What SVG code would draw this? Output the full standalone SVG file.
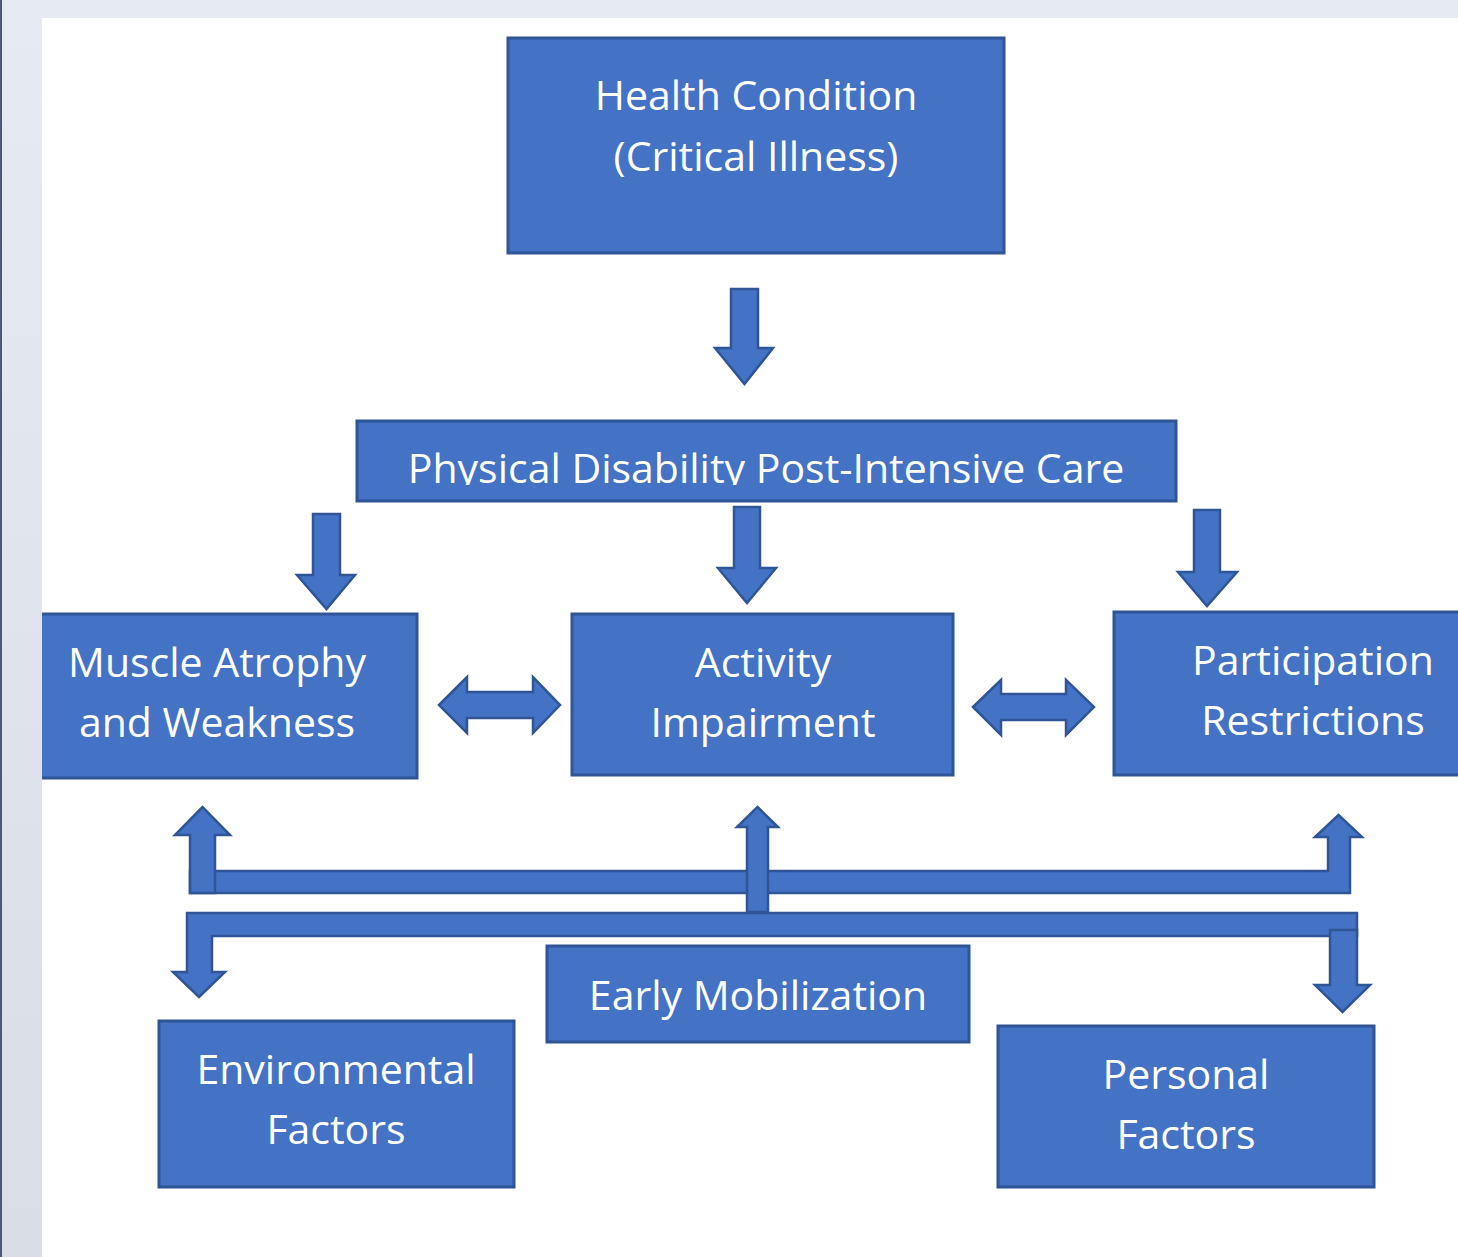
<svg xmlns="http://www.w3.org/2000/svg" width="1458" height="1257" viewBox="0 0 1458 1257">
  <defs>
    <linearGradient id="frameGrad" x1="0" y1="0" x2="0" y2="1">
      <stop offset="0" stop-color="#e6eaf2"/>
      <stop offset="1" stop-color="#d9dde5"/>
    </linearGradient>
    <clipPath id="page">
      <rect x="42" y="18" width="1416" height="1239"/>
    </clipPath>
    <clipPath id="pdClip">
      <rect x="357" y="421" width="819" height="64"/>
    </clipPath>
  </defs>
  <style>
    .box { fill: #4472c4; stroke: #2f5597; stroke-width: 3; }
    .arr { fill: #4472c4; stroke: #2f5597; stroke-width: 2.5; stroke-linejoin: miter; }
    .lbl { fill: #ffffff; font-family: "Open Sans", "Noto Sans", "DejaVu Sans", sans-serif; font-size: 41px; text-anchor: middle; }
  </style>

  <!-- window frame -->
  <rect x="0" y="0" width="1458" height="1257" fill="url(#frameGrad)"/>
  <rect x="0" y="0" width="2" height="1257" fill="#4b5876"/>
  <rect x="42" y="18" width="1416" height="1239" fill="#ffffff"/>

  <g clip-path="url(#page)">
    <!-- connectors -->
    <g id="connectors">
      <!-- health condition to disability -->
      <polygon class="arr" points="731,289 758,289 758,348 773,348 744.5,384 715,348 731,348"/>
      <!-- disability to the three components -->
      <polygon class="arr" points="313,514 340,514 340,575 355,575 326.5,609 297,575 313,575"/>
      <polygon class="arr" points="734,507 760,507 760,568 776,568 747,603 718,568 734,568"/>
      <polygon class="arr" points="1194,510 1220,510 1220,572 1237,572 1207,606 1178,572 1194,572"/>
      <!-- two-way links between components -->
      <polygon class="arr" points="439,705 467,677 467,692 533,692 533,677 560,705 533,733 533,718 467,718 467,733"/>
      <polygon class="arr" points="973,707 1001,680 1001,694 1066,694 1066,680 1094,707 1066,735 1066,720 1001,720 1001,735"/>
      <!-- upper bracket: up to the components -->
      <polygon class="arr" points="190,871 1328,871 1328,837 1315,837 1338.5,815 1362,837 1350,837 1350,893 190,893"/>
      <polygon class="arr" points="190,893 190,835 175,835 202.5,807 230,835 215,835 215,893"/>
      <!-- lower bracket: down to the contextual factors -->
      <polygon class="arr" points="187,913 1357,913 1357,936 212,936 212,972 225,972 199,997 173,972 187,972"/>
      <polygon class="arr" points="1330,930 1357,930 1357,985 1370,985 1342.5,1012 1315,985 1330,985"/>
      <!-- central stem -->
      <polygon class="arr" points="747,912 747,827 737,827 757.5,807 778,827 768,827 768,912"/>
    </g>

    <g id="health-condition">
      <rect class="box" x="508" y="38" width="496" height="215"/>
      <text class="lbl" x="756" y="110">Health Condition</text>
      <text class="lbl" x="756" y="171">(Critical Illness)</text>
    </g>

    <g id="physical-disability">
      <rect class="box" x="357" y="421" width="819" height="80"/>
      <text class="lbl" x="766" y="483" clip-path="url(#pdClip)">Physical Disability Post-Intensive Care</text>
    </g>

    <g id="muscle-atrophy">
      <rect class="box" x="17" y="614" width="400" height="164"/>
      <text class="lbl" x="217" y="677">Muscle Atrophy</text>
      <text class="lbl" x="217" y="737">and Weakness</text>
    </g>

    <g id="activity-impairment">
      <rect class="box" x="572" y="614" width="381" height="161"/>
      <text class="lbl" x="763" y="677">Activity</text>
      <text class="lbl" x="763" y="737">Impairment</text>
    </g>

    <g id="participation-restrictions">
      <rect class="box" x="1114" y="612" width="398" height="163"/>
      <text class="lbl" x="1313" y="675">Participation</text>
      <text class="lbl" x="1313" y="735">Restrictions</text>
    </g>

    <g id="early-mobilization">
      <rect class="box" x="547" y="946" width="422" height="96"/>
      <text class="lbl" x="758" y="1010">Early Mobilization</text>
    </g>

    <g id="environmental-factors">
      <rect class="box" x="159" y="1021" width="355" height="166"/>
      <text class="lbl" x="336" y="1084">Environmental</text>
      <text class="lbl" x="336" y="1144">Factors</text>
    </g>

    <g id="personal-factors">
      <rect class="box" x="998" y="1026" width="376" height="161"/>
      <text class="lbl" x="1186" y="1089">Personal</text>
      <text class="lbl" x="1186" y="1149">Factors</text>
    </g>
  </g>
</svg>
